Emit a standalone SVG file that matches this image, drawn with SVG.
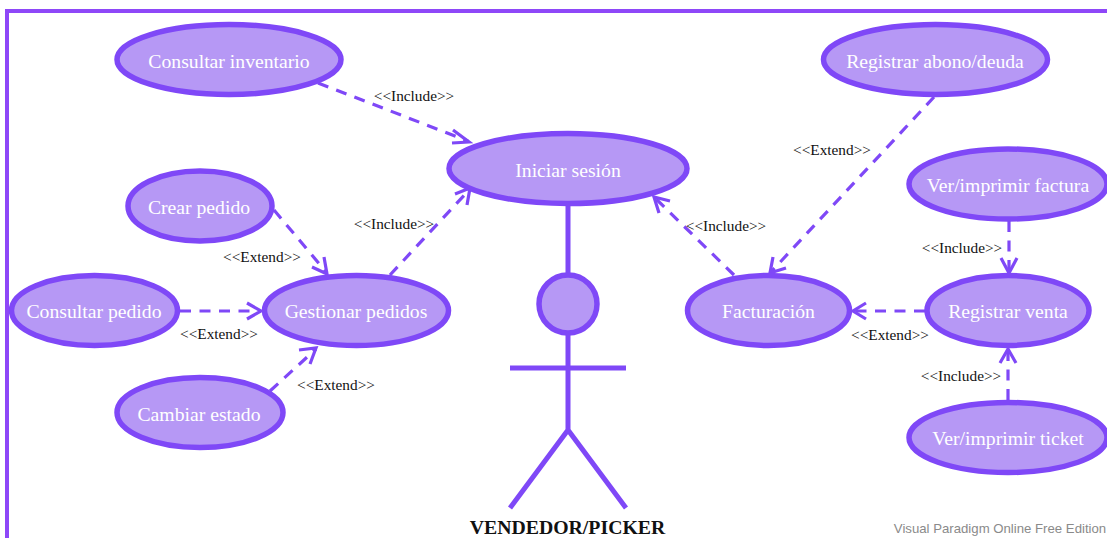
<svg xmlns="http://www.w3.org/2000/svg" width="1107" height="538" viewBox="0 0 1107 538">
<style>
.n{fill:#b698f5;stroke:#7f48f7;stroke-width:5.5}
.t{font:19.7px "Liberation Serif",serif;fill:#fff;text-anchor:middle}
.l{font:15.3px "Liberation Serif",serif;fill:#111;text-anchor:middle}
.c{fill:none;stroke:#7f48f7;stroke-width:3.2;stroke-dasharray:11 8.5}
.h{fill:none;stroke:#7f48f7;stroke-width:3.2}
.a{fill:none;stroke:#7f48f7;stroke-width:5}
</style>
<rect width="1107" height="538" fill="#fff"/>
<path d="M7 538V11H1107" fill="none" stroke="#8e47f8" stroke-width="4"/>
<g id="connectors">
<path class="c" d="M318 83L468 141"/><path class="h" d="M453 130L469 142L452 143"/>
<path class="c" d="M274 210L327 273"/><path class="h" d="M324 257L327 274L312 267"/>
<path class="c" d="M180 311H260"/><path class="h" d="M247 303L261 311L247 319"/>
<path class="c" d="M270 391L316 349"/><path class="h" d="M299 350L316 348L310 364"/>
<path class="c" d="M390 275L470 189"/><path class="h" d="M455 194L470 188L467 205"/>
<path class="c" d="M734 275L654 197"/><path class="h" d="M670 201L654 197L659 213"/>
<path class="c" d="M934 97L770 273"/><path class="h" d="M773 257L770 273L786 268"/>
<path class="c" d="M925 311H853"/><path class="h" d="M866 303L853 311L866 319"/>
<path class="c" d="M1009 221V272"/><path class="h" d="M1001 258L1009 273L1017 258"/>
<path class="c" d="M1008 400V349"/><path class="h" d="M1000 363L1008 349L1016 363"/>
</g>
<g id="actor">
<circle cx="568" cy="304" r="29" class="n"/>
<path class="a" d="M568 206V275M568 333V430M510 368H626M510 508L568 430L626 508"/>
<text x="567.5" y="534" font-family="Liberation Serif, serif" font-size="19.8" font-weight="bold" fill="#111" text-anchor="middle">VENDEDOR/PICKER</text>
</g>
<g id="consultar-inventario"><ellipse class="n" cx="229" cy="59.5" rx="112" ry="35"/><text class="t" x="229" y="67.5">Consultar inventario</text></g>
<g id="crear-pedido"><ellipse class="n" cx="200" cy="206" rx="72" ry="35"/><text class="t" x="199" y="214">Crear pedido</text></g>
<g id="consultar-pedido"><ellipse class="n" cx="94.5" cy="310.5" rx="83" ry="35"/><text class="t" x="94" y="318">Consultar pedido</text></g>
<g id="gestionar-pedidos"><ellipse class="n" cx="356.5" cy="310.5" rx="92" ry="35"/><text class="t" x="356" y="318">Gestionar pedidos</text></g>
<g id="cambiar-estado"><ellipse class="n" cx="200" cy="412.5" rx="83" ry="35"/><text class="t" x="199" y="421">Cambiar estado</text></g>
<g id="iniciar-sesion"><ellipse class="n" cx="568" cy="168.5" rx="119" ry="35"/><text class="t" x="568" y="176.5">Iniciar sesión</text></g>
<g id="facturacion"><ellipse class="n" cx="768.5" cy="310.5" rx="81" ry="35"/><text class="t" x="768.5" y="318">Facturación</text></g>
<g id="registrar-venta"><ellipse class="n" cx="1008" cy="310.5" rx="81" ry="35"/><text class="t" x="1008" y="318">Registrar venta</text></g>
<g id="registrar-abono"><ellipse class="n" cx="935.5" cy="59.5" rx="112" ry="35"/><text class="t" x="935" y="67.5">Registrar abono/deuda</text></g>
<g id="ver-factura"><ellipse class="n" cx="1008" cy="184" rx="99" ry="35"/><text class="t" x="1008" y="192">Ver/imprimir factura</text></g>
<g id="ver-ticket"><ellipse class="n" cx="1008" cy="437.5" rx="99" ry="35"/><text class="t" x="1008" y="445">Ver/imprimir ticket</text></g>
<g id="labels">
<text class="l" x="414" y="101">&lt;&lt;Include&gt;&gt;</text>
<text class="l" x="394" y="229">&lt;&lt;Include&gt;&gt;</text>
<text class="l" x="262" y="262">&lt;&lt;Extend&gt;&gt;</text>
<text class="l" x="219" y="339">&lt;&lt;Extend&gt;&gt;</text>
<text class="l" x="336" y="390">&lt;&lt;Extend&gt;&gt;</text>
<text class="l" x="726" y="231">&lt;&lt;Include&gt;&gt;</text>
<text class="l" x="832" y="155">&lt;&lt;Extend&gt;&gt;</text>
<text class="l" x="962" y="253">&lt;&lt;Include&gt;&gt;</text>
<text class="l" x="890" y="340">&lt;&lt;Extend&gt;&gt;</text>
<text class="l" x="961" y="381">&lt;&lt;Include&gt;&gt;</text>
</g>
<text x="1000" y="533" font-family="Liberation Sans, sans-serif" font-size="13.2" fill="#8a8a8a" text-anchor="middle">Visual Paradigm Online Free Edition</text>
</svg>
